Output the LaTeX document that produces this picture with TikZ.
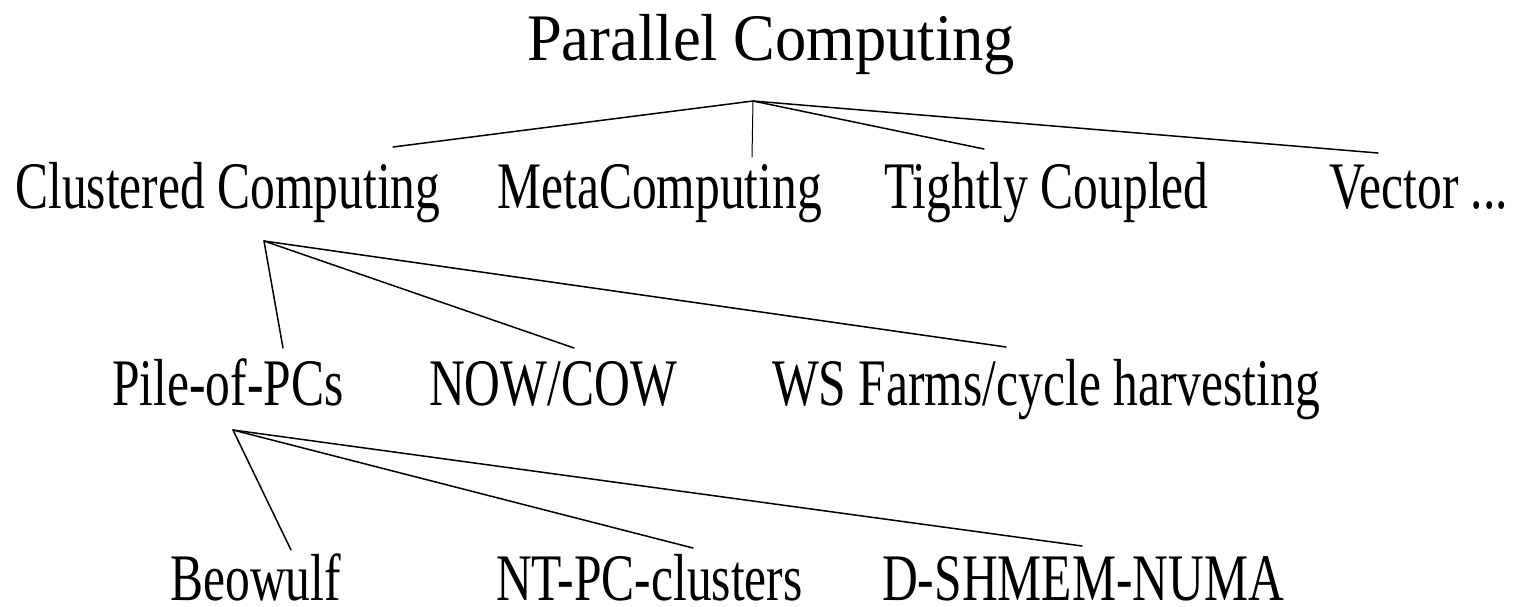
\documentclass[tikz,border=0pt]{standalone}
\usepackage{fontspec}
\setmainfont{Liberation Serif}
% condensed Times-like faces for the title and the tree labels
\newfontfamily\titleface[FakeStretch=0.94]{Liberation Serif}
\newfontfamily\labelface[FakeStretch=0.745]{Liberation Serif}
\tikzset{
  title/.style={anchor=base west, inner sep=0pt, font=\titleface\fontsize{66.5}{70}\selectfont},
  leaf/.style={anchor=base west, inner sep=0pt, font=\labelface\fontsize{66.5}{70}\selectfont},
  lastrow/.style={leaf, text depth=0pt},
  branch/.style={line width=1.5pt, line cap=round, line join=round}
}
\begin{document}
\begin{tikzpicture}[x=1pt, y=-1pt]
  \useasboundingbox (0,0) rectangle (1513,606);

  % labels
  \node[title] (pc)   at (527,60)  {Parallel Computing};
  \node[leaf]  (cc)   at (15,208)  {Clustered Computing};
  \node[leaf]  (meta) at (497,208) {MetaComputing};
  \node[leaf]  (tc)   at (884,208) {Tightly Coupled};
  \node[leaf]  (vec)  at (1329,208) {Vector ...};
  \node[leaf]  (pile) at (112,405) {Pile-of-PCs};
  \node[leaf]  (now)  at (429,405) {NOW/COW};
  \node[leaf]  (ws)   at (772,405) {WS Farms/cycle harvesting};
  \node[lastrow] (beo) at (170,600) {Beowulf};
  \node[lastrow] (nt)  at (496,600) {NT-PC-clusters};
  \node[lastrow] (dsh) at (882,600) {D-SHMEM-NUMA};

  % fan-out points under each parent and the ends above each child
  \coordinate (pc-hub)   at (753,101);
  \coordinate (cc-end)   at (393,147);
  \coordinate (meta-end) at (752,157);
  \coordinate (tc-end)   at (984,149);
  \coordinate (vec-end)  at (1378,153);

  \coordinate (cc-hub)   at (264,241);
  \coordinate (pile-end) at (283,348);
  \coordinate (now-end)  at (574,348);
  \coordinate (ws-end)   at (1006,347);

  \coordinate (pile-hub) at (233,430);
  \coordinate (beo-end)  at (291,550);
  \coordinate (nt-end)   at (693,548);
  \coordinate (dsh-end)  at (1082,546);

  % branches
  \draw[branch] (pc-hub) -- (cc-end);
  \draw[branch, line width=1pt] (pc-hub) -- (meta-end);
  \draw[branch] (pc-hub) -- (tc-end);
  \draw[branch] (pc-hub) -- (vec-end);

  \draw[branch] (cc-hub) -- (pile-end);
  \draw[branch] (cc-hub) -- (now-end);
  \draw[branch] (cc-hub) -- (ws-end);

  \draw[branch] (pile-hub) -- (beo-end);
  \draw[branch] (pile-hub) -- (nt-end);
  \draw[branch] (pile-hub) -- (dsh-end);
\end{tikzpicture}
\end{document}
